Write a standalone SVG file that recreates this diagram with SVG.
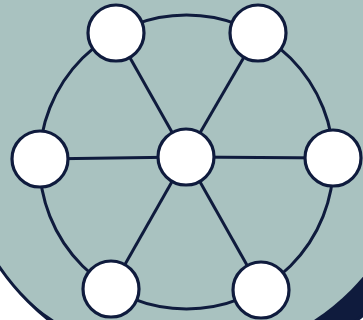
<svg xmlns="http://www.w3.org/2000/svg" width="363" height="320" viewBox="0 0 363 320">
  <style>
    .edge { fill: none; stroke: #0f1b3d; stroke-width: 3; }
    .node { fill: #ffffff; stroke: #0f1b3d; stroke-width: 3.2; }
  </style>
  <defs>
    <clipPath id="bigclip"><circle cx="203" cy="127" r="247"/></clipPath>
  </defs>
  <rect x="0" y="0" width="363" height="320" fill="#ffffff"/>
  <g id="backdrop">
    <circle cx="203" cy="127" r="247" fill="#0f1b3d"/>
    <circle cx="184" cy="123" r="236" fill="#a9c2c0" clip-path="url(#bigclip)"/>
    <circle cx="203" cy="127" r="247" fill="none" stroke="#0f1b3d" stroke-width="3"/>
  </g>
  <g id="connectors">
    <circle class="edge" cx="186.5" cy="162" r="147"/>
    <line class="edge" x1="186" y1="157" x2="116" y2="33"/>
    <line class="edge" x1="186" y1="157" x2="258" y2="33"/>
    <line class="edge" x1="186" y1="157" x2="40" y2="159"/>
    <line class="edge" x1="186" y1="157" x2="333" y2="158"/>
    <line class="edge" x1="186" y1="157" x2="111" y2="289"/>
    <line class="edge" x1="186" y1="157" x2="261" y2="290"/>
  </g>
  <g id="node-top-left"><circle class="node" cx="116" cy="33" r="28"/></g>
  <g id="node-top-right"><circle class="node" cx="258" cy="33" r="28"/></g>
  <g id="node-left"><circle class="node" cx="40" cy="159" r="28"/></g>
  <g id="node-center"><circle class="node" cx="186" cy="157" r="28"/></g>
  <g id="node-right"><circle class="node" cx="333" cy="158" r="28"/></g>
  <g id="node-bottom-left"><circle class="node" cx="111" cy="289" r="28"/></g>
  <g id="node-bottom-right"><circle class="node" cx="261" cy="290" r="28"/></g>
</svg>
